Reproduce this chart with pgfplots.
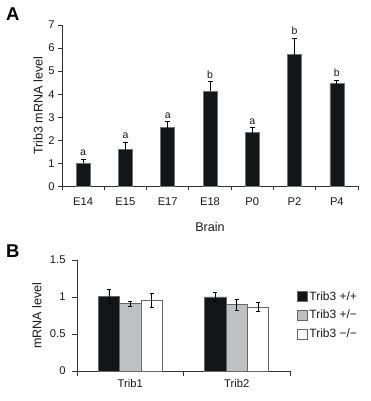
\documentclass[border=0pt]{standalone}
\usepackage{fontspec}
\setmainfont{Liberation Sans}
\usepackage{pgfplots}
\pgfplotsset{compat=1.18}
\definecolor{barblack}{HTML}{141516}
\definecolor{bargray}{HTML}{BFC0C1}
\definecolor{axgray}{HTML}{333333}
\begin{document}
\begin{tikzpicture}[x=1bp,y=1bp]
\path[use as bounding box] (0,0) rectangle (371,401);
\node[anchor=north west, inner sep=0, font=\bfseries\fontsize{18.5bp}{19bp}\selectfont] at (6,393) {A};
\node[anchor=north west, inner sep=0, font=\bfseries\fontsize{18.5bp}{19bp}\selectfont] at (6,156) {B};

\begin{axis}[
  at={(62bp,214.5bp)}, anchor=south west, scale only axis,
  width=296bp, height=161.5bp,
  ymin=0, ymax=7, xmin=-0.5, xmax=6.5,
  axis lines*=left, axis line style={axgray, line width=0.8bp},
  tick align=outside, major tick length=4bp,
  tick style={axgray, line width=0.8bp},
  ybar, bar width=14bp,
  xtick={-0.5,0.5,1.5,2.5,3.5,4.5,5.5,6.5},
  x tick label as interval,
  xticklabels={E14,E15,E17,E18,P0,P2,P4},
  ytick={0,1,2,3,4,5,6,7},
  /pgf/number format/assume math mode=true,
  tick label style={font=\fontsize{11.2bp}{13bp}\selectfont, text=black!90},
  xticklabel style={yshift=-4bp},
  ylabel={Trib3 mRNA level},
  xlabel={Brain},
  label style={font=\fontsize{12.6bp}{14bp}\selectfont, text=black!90},
  ylabel style={at={(axis description cs:-0.081,0.5)}, anchor=center},
  xlabel style={at={(axis description cs:0.5,-0.22)}, anchor=north, inner sep=0pt},
  clip=false,
]
\addplot[fill=barblack, draw=black!55, line width=0.6bp,
  error bars/.cd, y dir=plus, y explicit,
  error bar style={black, line width=0.8bp},
  error mark options={rotate=90, black, line width=0.8bp, mark size=2.5bp}]
  table[x=x, y=y, y error=e] {
x y e
0 1.00 0.19
1 1.60 0.33
2 2.55 0.27
3 4.12 0.43
4 2.33 0.21
5 5.72 0.72
6 4.46 0.15
};
\begin{scope}[every node/.style={anchor=south, inner sep=0pt, yshift=3bp, font=\fontsize{10.5bp}{12bp}\selectfont, text=black!90}]
\node at (axis cs:0,1.19) {a};
\node at (axis cs:1,1.93) {a};
\node at (axis cs:2,2.82) {a};
\node at (axis cs:3,4.55) {b};
\node at (axis cs:4,2.54) {a};
\node at (axis cs:5,6.44) {b};
\node at (axis cs:6,4.61) {b};
\end{scope}
\end{axis}

\begin{axis}[
  at={(77bp,30bp)}, anchor=south west, scale only axis,
  width=213bp, height=111bp,
  ymin=0, ymax=1.5, xmin=-0.5, xmax=1.5,
  axis lines*=left, axis line style={axgray, line width=0.8bp},
  tick align=outside, major tick length=5bp,
  tick style={axgray, line width=0.8bp},
  ybar=0pt, bar width=21.3bp,
  xtick={-0.5,0.5,1.5},
  x tick label as interval,
  xticklabels={Trib1,Trib2},
  ytick={0,0.5,1,1.5},
  /pgf/number format/assume math mode=true,
  tick label style={font=\fontsize{11.2bp}{13bp}\selectfont, text=black!90},
  yticklabel style={xshift=-3bp},
  ylabel={mRNA level},
  label style={font=\fontsize{12.6bp}{14bp}\selectfont, text=black!90},
  ylabel style={at={(axis description cs:-0.188,0.5)}, anchor=center},
  legend style={draw=none, fill=none, at={(axis description cs:1.03,0.735)}, anchor=north west,
    font=\fontsize{12bp}{14bp}\selectfont, text=black!90, inner sep=0pt, row sep=4.5bp,
    /tikz/every even column/.style={column sep=3bp}},
  legend cell align=left,
  legend image code/.code={\draw[#1, line width=0.8bp] (0bp,-5bp) rectangle (10bp,5bp);},
  error bars/y dir=both, error bars/y explicit,
  error bars/error bar style={black, line width=0.8bp},
  error bars/error mark options={rotate=90, black, line width=0.8bp, mark size=2bp},
  clip=false,
]
\addplot[fill=barblack, draw=black!60, line width=0.8bp] table[x=x, y=y, y error=e] {
x y e
0 1.01 0.09
1 1.00 0.065
};
\addplot[fill=bargray, draw=black!60, line width=0.8bp] table[x=x, y=y, y error=e] {
x y e
0 0.91 0.035
1 0.895 0.075
};
\addplot[fill=white, draw=black!60, line width=0.8bp] table[x=x, y=y, y error=e] {
x y e
0 0.955 0.10
1 0.864 0.06
};
\legend{Trib3 +/+, Trib3 +/\textminus, Trib3 \textminus/\textminus}
\end{axis}
\end{tikzpicture}
\end{document}
